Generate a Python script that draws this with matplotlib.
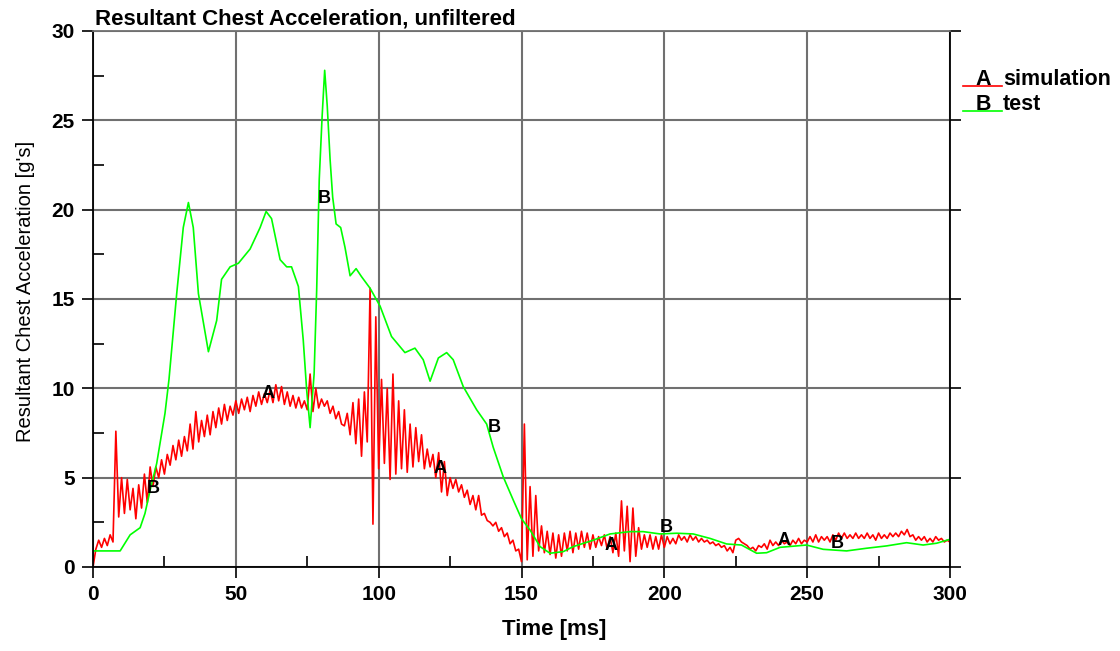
import numpy as np
import matplotlib
matplotlib.use("Agg")
import matplotlib.pyplot as plt
from matplotlib.lines import Line2D
from matplotlib.ticker import MultipleLocator

plt.rcParams["font.family"] = ["Liberation Sans", "DejaVu Sans"]

RED, GREEN, GRID = "#ff0000", "#00ff00", "#707070"

# A: simulation, one value per ms (0..300)
sim_t = np.arange(0, 301)
sim_g = [
    0.0, 1.0, 1.5, 1.1, 1.6, 1.2, 1.8, 1.4, 7.6, 2.8,
    5.0, 3.0, 4.9, 3.2, 4.4, 2.7, 4.6, 3.3, 5.2, 3.6,
    5.6, 4.5, 5.6, 5.0, 6.0, 5.2, 6.3, 5.7, 6.8, 6.0,
    7.1, 6.2, 7.3, 6.5, 8.0, 6.6, 8.7, 7.0, 8.2, 7.3,
    8.5, 7.4, 8.7, 7.8, 8.9, 8.0, 9.1, 8.2, 9.0, 8.5,
    9.3, 8.6, 9.4, 8.8, 9.5, 8.7, 9.6, 9.0, 9.8, 9.1,
    9.7, 9.2, 9.9, 9.2, 10.2, 9.3, 10.1, 9.1, 9.8, 9.0,
    9.6, 8.9, 9.5, 8.9, 9.3, 8.8, 10.8, 8.7, 10.0, 8.9,
    9.4, 9.0, 9.3, 8.6, 9.0, 8.3, 8.7, 8.0, 7.9, 8.6,
    7.4, 9.2, 6.9, 9.4, 6.2, 9.8, 7.0, 15.6, 2.4, 14.0,
    5.5, 10.5, 5.8, 10.0, 4.9, 10.8, 5.2, 9.3, 5.5, 8.8,
    5.3, 8.0, 5.6, 7.8, 5.9, 7.4, 5.5, 6.6, 5.6, 6.3,
    5.0, 6.4, 4.2, 5.9, 4.0, 5.0, 4.4, 4.9, 4.2, 4.6,
    3.9, 4.3, 3.5, 4.0, 3.2, 4.0, 2.9, 3.0, 2.6, 2.5,
    2.3, 2.5, 2.0, 2.2, 1.7, 1.9, 1.3, 1.5, 0.9, 1.0,
    0.3, 8.0, 0.4, 4.5, 0.6, 4.0, 0.9, 2.3, 0.8, 2.0,
    0.7, 1.9, 0.5, 1.8, 0.6, 1.9, 0.9, 2.0, 0.8, 1.9,
    1.0, 2.0, 1.1, 1.9, 1.0, 1.8, 1.1, 1.7, 1.2, 1.8,
    1.0, 1.7, 0.8, 1.9, 0.6, 3.7, 0.9, 3.4, 0.3, 3.3,
    0.6, 2.2, 1.0, 1.8, 1.1, 1.8, 1.0, 1.7, 1.0, 1.8,
    1.1, 1.7, 1.3, 1.6, 1.3, 1.8, 1.5, 1.7, 1.4, 1.8,
    1.5, 1.7, 1.4, 1.6, 1.4, 1.5, 1.3, 1.4, 1.2, 1.3,
    1.1, 1.2, 0.9, 1.1, 0.8, 1.5, 1.6, 1.4, 1.3, 1.2,
    1.0, 1.1, 0.9, 1.2, 1.1, 1.3, 1.0, 1.5, 1.2, 1.4,
    1.2, 1.5, 1.3, 1.4, 1.2, 1.5, 1.3, 1.6, 1.3, 1.5,
    1.4, 1.7, 1.4, 1.8, 1.4, 1.7, 1.5, 1.7, 1.4, 1.8,
    1.5, 1.9, 1.6, 1.9, 1.6, 1.8, 1.6, 1.9, 1.6, 1.8,
    1.6, 1.9, 1.6, 1.8, 1.5, 1.9, 1.6, 1.8, 1.6, 1.9,
    1.7, 1.9, 1.7, 2.0, 1.8, 2.1, 1.7, 1.8, 1.5, 1.7,
    1.5, 1.7, 1.4, 1.6, 1.4, 1.7, 1.5, 1.6, 1.4, 1.5,
    1.4,
]

# B: test
test_t = [0, 9.5, 13, 16.5, 18.2, 20, 22.3, 25.2, 26.6, 29.3, 31.6, 33.4, 35.1,
          36.9, 40.4, 43.3, 45.0, 48, 50.9, 55, 58.5, 60.6, 62.5, 65.5, 67.8,
          69.5, 71.9, 73.6, 74.8, 76, 77.4, 78.3, 79.2, 80.2, 81.1, 82, 83,
          83.9, 85.1, 86.7, 88.2, 90, 92.1, 94, 97, 100.5, 104.5, 109.2, 112.7,
          115.6, 118, 120.9, 123.8, 126.1, 129.6, 134.3, 137.8, 140.1, 143.6,
          147.1, 150, 153, 156.5, 160, 164.6, 168.1, 175.1, 181, 188, 192.6,
          198.5, 204.3, 210.1, 216, 221.8, 227, 232.3, 235.8, 240.5, 246.3,
          249.8, 255.6, 263.8, 270.8, 277.8, 284.8, 290.6, 295.3, 300]
test_g = [0.9, 0.9, 1.8, 2.2, 3.0, 4.3, 5.8, 8.6, 10.5, 15.3, 19.0, 20.4, 19.0,
          15.3, 12.05, 13.8, 16.1, 16.8, 17.0, 17.8, 19.0, 19.9, 19.5, 17.2, 16.8,
          16.8, 15.7, 12.7, 9.9, 7.8, 10.8, 15.5, 21.7, 25.2, 27.8, 25.8, 22.8,
          20.7, 19.2, 19.0, 17.9, 16.3, 16.7, 16.25, 15.6, 14.6, 12.9, 12.0, 12.25,
          11.6, 10.4, 11.7, 12.0, 11.6, 10.1, 8.8, 8.0, 6.7, 5.05,
          3.75, 2.7, 2.07, 1.14, 0.77, 0.86, 1.14, 1.5, 1.85, 1.98, 1.98,
          1.85, 1.89, 1.85, 1.6, 1.29, 1.23, 0.77, 0.8, 1.1, 1.18,
          1.23, 0.99, 0.9, 1.05, 1.18, 1.36, 1.23, 1.33, 1.55]

# curve id letters along the traces
a_marks = [(61.3, 9.7), (121.5, 5.5), (181.3, 1.2), (241.9, 1.5)]
b_marks = [(21.0, 4.4), (80.9, 20.6), (140.4, 7.8), (200.6, 2.2), (260.4, 1.3)]

fig = plt.figure(figsize=(11.2, 6.51), dpi=100)
ax = fig.add_axes([93 / 1120, 1 - 567 / 651, 857 / 1120, 536 / 651])

ax.plot(sim_t, sim_g, color=RED, lw=1.2)
ax.plot(test_t, test_g, color=GREEN, lw=1.2)
for t, g in a_marks:
    ax.text(t, g, "A", ha="center", va="center", fontsize=13, fontweight="bold")
for t, g in b_marks:
    ax.text(t, g, "B", ha="center", va="center", fontsize=13, fontweight="bold")

ax.set_xlim(0, 300); ax.set_ylim(0, 30)
ax.xaxis.set_major_locator(MultipleLocator(50)); ax.xaxis.set_minor_locator(MultipleLocator(25))
ax.yaxis.set_major_locator(MultipleLocator(5)); ax.yaxis.set_minor_locator(MultipleLocator(2.5))
ax.grid(True, which="major", color=GRID, lw=1.5)
ax.set_axisbelow(True)
ax.tick_params(which="major", direction="out", length=8, width=1.2, pad=5,
               labelsize=15, right=True)
ax.tick_params(which="minor", direction="in", length=8, width=1.2, right=False)
for lab in ax.get_xticklabels() + ax.get_yticklabels():
    lab.set_fontweight("bold")
for s in ax.spines.values():
    s.set_linewidth(1.3)
ax.spines["top"].set_color(GRID)

ax.set_xlabel("Time [ms]", fontsize=16, fontweight="bold")
ax.xaxis.set_label_coords(0.538, -0.097)
ax.set_ylabel("Resultant Chest Acceleration [g's]", fontsize=14.5)
ax.yaxis.set_label_coords(-0.068, 0.514)

fig.text(95 / 1120, 1 - 25 / 651, "Resultant Chest Acceleration, unfiltered",
         fontsize=16, fontweight="bold", va="baseline")

# legend drawn by hand (letter underlined by the line)
for y, c, letter, name in ((85, RED, "A", "simulation"), (110, GREEN, "B", "test")):
    fig.add_artist(Line2D([963 / 1120, 1002 / 1120], [1 - (y + 1) / 651] * 2,
                          color=c, lw=1.2))
    fig.text(983 / 1120, 1 - y / 651, letter, fontsize=15.5, fontweight="bold",
             ha="center", va="baseline")
    fig.text(1003 / 1120, 1 - y / 651, name, fontsize=15.5, fontweight="bold",
             va="baseline")

fig.savefig("out.png", dpi=100)
